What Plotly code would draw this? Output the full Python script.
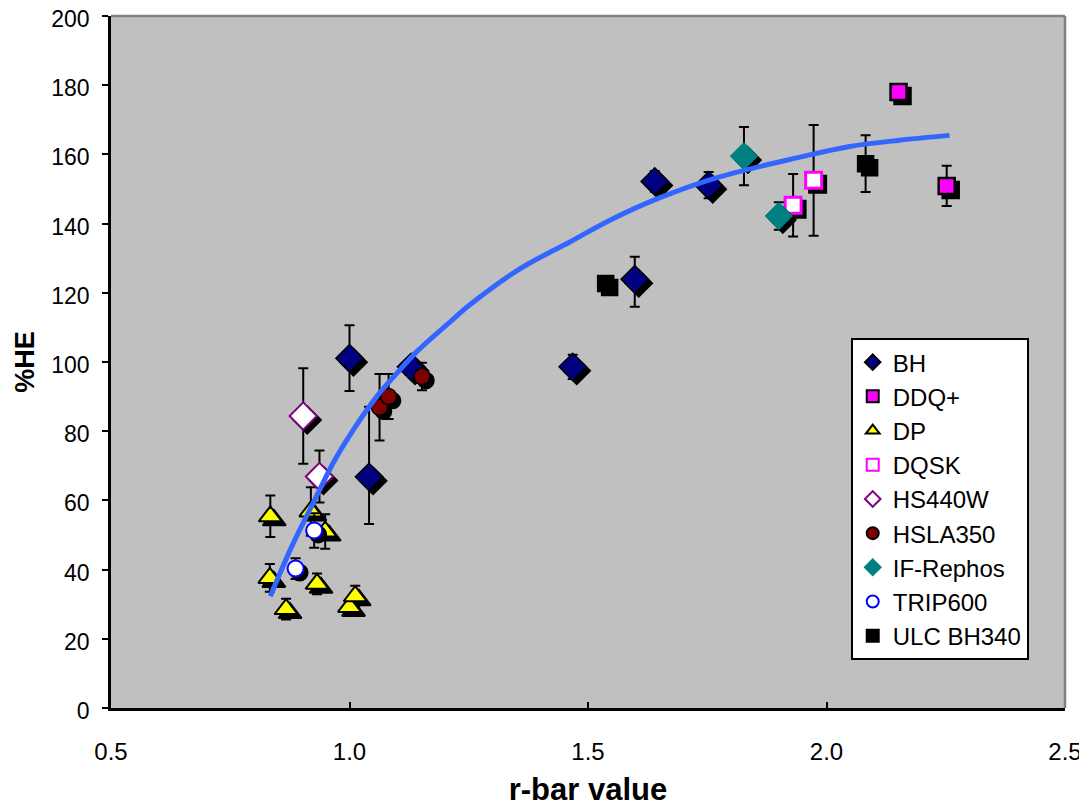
import plotly.graph_objects as go

# ---------------- data ----------------
BH_X = [1.000, 1.041, 1.129, 1.468, 1.598, 1.640, 1.753]
BH_Y = [101.1, 66.8, 98.6, 98.6, 123.9, 152.2, 151.1]
BH_EP = [9.5, 20.3, 2.5, 3.5, 6.5, 3.0, 3.8]
BH_EM = [9.5, 13.6, 2.5, 3.5, 7.9, 3.0, 3.8]

DDQ_X = [2.151, 2.252]
DDQ_Y = [178.0, 150.9]
DDQ_E = [0.0, 5.8]

DP_X = [0.834, 0.833, 0.867, 0.932, 1.000, 1.012, 0.919, 0.949]
DP_Y = [55.4, 37.6, 28.6, 35.9, 29.2, 32.3, 56.8, 51.0]
DP_E = [6.0, 4.0, 3.0, 3.0, 2.0, 3.0, 7.0, 5.0]

DQSK_X = [1.973, 1.930]
DQSK_Y = [152.5, 145.3]
DQSK_E = [16.0, 9.0]

HS440W_X = [0.903, 0.937]
HS440W_Y = [84.4, 66.9]
HS440W_E = [13.8, 7.5]

HSLA_X = [1.063, 1.082, 1.152]
HSLA_Y = [86.9, 90.0, 95.8]
HSLA_E = [9.6, 6.5, 4.0]

IF_X = [1.827, 1.900]
IF_Y = [159.5, 142.2]
IF_E = [8.4, 4.0]

TRIP_X = [0.887, 0.926]
TRIP_Y = [40.3, 51.3]
TRIP_E = [3.0, 5.0]

ULC_X = [2.082, 1.537]
ULC_Y = [157.3, 122.7]
ULC_E = [8.2, 0.0]

TREND_X = [0.834, 0.879, 0.924, 0.966, 1.008, 1.057, 1.099, 1.141, 1.211, 1.253,
           1.358, 1.462, 1.546, 1.651, 1.776, 1.944, 2.049, 2.153, 2.258]
TREND_Y = [32.3, 46.7, 59.3, 70.9, 80.4, 90.0, 96.7, 103.0, 111.6, 116.6,
           127.0, 134.7, 141.0, 147.5, 153.5, 159.2, 162.3, 164.1, 165.5]

X_TICKS = [0.5, 1.0, 1.5, 2.0, 2.5]
Y_TICKS = [0, 20, 40, 60, 80, 100, 120, 140, 160, 180, 200]

# ---------------- figure ----------------
# the page body has an 8px margin, so the figure is 8px smaller and margins shifted
W, H = 1079, 799
ML, MR, MT, MB = 102.5, 21.5, 7.5, 98.5
X_RANGE = [0.5, 2.5]
Y_RANGE = [0, 200]
px_per_x = (W - ML - MR) / (X_RANGE[1] - X_RANGE[0])
px_per_y = (H - MT - MB) / (Y_RANGE[1] - Y_RANGE[0])
SH_PX = 4  # shadow offset in pixels
dx = SH_PX / px_per_x
dy = SH_PX / px_per_y

series = [
    dict(name="BH", x=BH_X, y=BH_Y, ep=BH_EP, em=BH_EM, symbol="diamond", size=21,
         fill="#000080", line="#000000", lw=1.5),
    dict(name="DDQ+", x=DDQ_X, y=DDQ_Y, ep=DDQ_E, em=DDQ_E, symbol="square", size=16,
         fill="#FF00FF", line="#000000", lw=2.5),
    dict(name="DP", x=DP_X, y=DP_Y, ep=DP_E, em=DP_E, symbol="triangle-up", size=20,
         fill="#FFFF00", line="#000000", lw=2),
    dict(name="DQSK", x=DQSK_X, y=DQSK_Y, ep=DQSK_E, em=DQSK_E, symbol="square", size=16,
         fill="#FFFFFF", line="#FF00FF", lw=3),
    dict(name="HS440W", x=HS440W_X, y=HS440W_Y, ep=HS440W_E, em=HS440W_E, symbol="diamond",
         size=21, fill="#FFFFFF", line="#800080", lw=2),
    dict(name="HSLA350", x=HSLA_X, y=HSLA_Y, ep=HSLA_E, em=HSLA_E, symbol="circle", size=16,
         fill="#800000", line="#000000", lw=1.5),
    dict(name="IF-Rephos", x=IF_X, y=IF_Y, ep=IF_E, em=IF_E, symbol="diamond", size=21,
         fill="#008080", line="#008080", lw=1),
    dict(name="TRIP600", x=TRIP_X, y=TRIP_Y, ep=TRIP_E, em=TRIP_E, symbol="circle", size=16,
         fill="#FFFFFF", line="#0000FF", lw=2),
    dict(name="ULC BH340", x=ULC_X, y=ULC_Y, ep=ULC_E, em=ULC_E, symbol="square", size=16,
         fill="#000000", line="#000000", lw=1.5),
]

fig = go.Figure()
for s in series:
    # drop shadow
    fig.add_trace(go.Scatter(
        x=[v + dx for v in s["x"]], y=[v - dy for v in s["y"]],
        mode="markers", showlegend=False, hoverinfo="skip", legendgroup=s["name"],
        marker=dict(symbol=s["symbol"], size=s["size"], color="#000000",
                    line=dict(color="#000000", width=s["lw"])),
    ))
    fig.add_trace(go.Scatter(
        x=s["x"], y=s["y"], name=s["name"], mode="markers", legendgroup=s["name"],
        marker=dict(symbol=s["symbol"], size=s["size"], color=s["fill"],
                    line=dict(color=s["line"], width=s["lw"])),
        error_y=dict(type="data", symmetric=False, array=s["ep"], arrayminus=s["em"],
                     color="#000000", thickness=2, width=5),
    ))

fig.add_trace(go.Scatter(
    x=TREND_X, y=TREND_Y, mode="lines", showlegend=False, hoverinfo="skip",
    line=dict(color="#3366FF", width=5, shape="spline", smoothing=1.0),
))

plot_w = W - ML - MR
plot_h = H - MT - MB
fig.update_layout(
    width=W, height=H,
    margin=dict(l=ML, r=MR, t=MT, b=MB, autoexpand=False),
    paper_bgcolor="#FFFFFF", plot_bgcolor="#C0C0C0",
    font=dict(family="Liberation Sans, Arial, sans-serif", color="#000000", size=22),
    legend=dict(
        x=(851 - 110.5) / plot_w, y=(708.5 - 338) / plot_h,
        xanchor="left", yanchor="top",
        bgcolor="#FFFFFF", bordercolor="#000000", borderwidth=2,
        font=dict(size=24, family="Liberation Sans, Arial, sans-serif"),
        tracegroupgap=0, itemsizing="constant",
    ),
    xaxis=dict(
        range=X_RANGE, tickvals=X_TICKS, ticktext=[f"{v:.1f}" for v in X_TICKS],
        ticks="inside", ticklen=6, tickwidth=1.5, tickcolor="#000000",
        showgrid=False, zeroline=False, showline=True, linecolor="#000000", linewidth=2.5,
        mirror=False, ticklabeloverflow="allow",
        tickfont=dict(size=24, family="Liberation Sans Narrow, Arial Narrow, Liberation Sans, Arial"),
        title=dict(text="<b>r-bar value</b>", standoff=30,
                   font=dict(size=31, family="Liberation Sans Narrow, Arial Narrow, Liberation Sans, Arial")),
        ticklabelstandoff=20,
    ),
    yaxis=dict(
        range=Y_RANGE, tickvals=Y_TICKS,
        ticks="outside", ticklen=6, tickwidth=1.5, tickcolor="#000000",
        showgrid=False, zeroline=False, showline=True, linecolor="#000000", linewidth=2.5,
        tickfont=dict(size=23), ticklabelstandoff=8, ticklabeloverflow="allow",
        ticklabelshift=3,
        title=dict(text="<b>%HE</b>", standoff=9, font=dict(size=27)),
    ),
    shapes=[
        dict(type="line", xref="paper", yref="paper", x0=0, x1=1, y0=1, y1=1,
             line=dict(color="#808080", width=2.5)),
        dict(type="line", xref="paper", yref="paper", x0=1, x1=1, y0=0, y1=1,
             line=dict(color="#808080", width=2.5)),
    ],
)

fig.write_html("out.html")
